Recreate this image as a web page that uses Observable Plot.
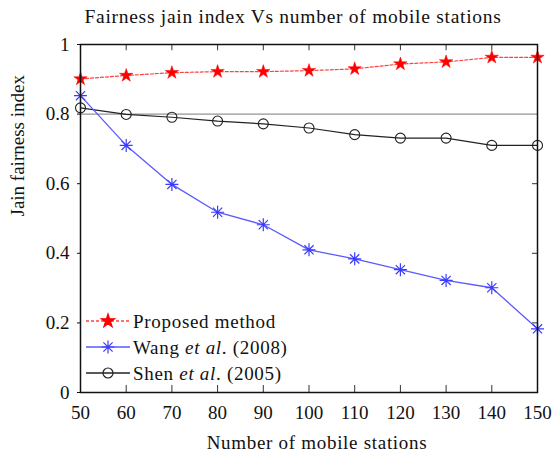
<!DOCTYPE html>
<html>
<head>
<meta charset="utf-8">
<script src="https://cdn.jsdelivr.net/npm/d3@7"></script>
<script src="https://cdn.jsdelivr.net/npm/@observablehq/plot@0.6"></script>
<style>
  body { margin: 0; background: white; }
  #wrap { position: relative; width: 555px; height: 459px; font-family: "Liberation Serif", "DejaVu Serif", serif; }
  #title { box-sizing: border-box; width: 555px; height: 28px; line-height: 33px; padding-left: 31px; text-align: center; font-size: 19.5px; letter-spacing: 0.72px; color: #111; white-space: nowrap; }
  #legend { position: absolute; left: 0; top: 0; }
</style>
</head>
<body>
<div id="wrap">
  <div id="title">Fairness jain index Vs number of mobile stations</div>
  <div id="chart"></div>
  <svg id="legend" width="555" height="459"></svg>
</div>
<script>
// ---- data ----
const stations = [50, 60, 70, 80, 90, 100, 110, 120, 130, 140, 150];
const proposed = [0.901, 0.911, 0.919, 0.922, 0.922, 0.925, 0.930, 0.944, 0.950, 0.963, 0.963];
const wang     = [0.853, 0.710, 0.598, 0.518, 0.482, 0.410, 0.384, 0.353, 0.322, 0.301, 0.183];
const shen     = [0.818, 0.799, 0.791, 0.780, 0.772, 0.760, 0.741, 0.731, 0.731, 0.710, 0.710];
const seriesNames = ["Proposed method", "Wang et al. (2008)", "Shen et al. (2005)"];
const xTicks = [50, 60, 70, 80, 90, 100, 110, 120, 130, 140, 150];
const xInnerTicks = [60, 70, 80, 90, 100, 110, 120, 130, 140];
const yTicks = [0, 0.2, 0.4, 0.6, 0.8, 1];
const yTickLabels = ["0", "0.2", "0.4", "0.6", "0.8", "1"];
const yInnerTicks = [0.2, 0.4, 0.6];
const refLine = [0.8];
const title = "Fairness jain index Vs number of mobile stations";
const xLabel = "Number of mobile stations";
const yLabel = "Jain fairness index";

const colors = ["#ff0000", "#3b3bff", "#222222"];

const rows = (vals) => stations.map((s, i) => ({x: s, y: vals[i]}));
const pRows = rows(proposed), wRows = rows(wang), sRows = rows(shen);

// 8-arm asterisk like gnuplot
const asterisk8 = {
  draw(ctx, size) {
    const r = Math.sqrt(size / Math.PI);
    const d = r * Math.SQRT1_2;
    ctx.moveTo(0, -r); ctx.lineTo(0, r);
    ctx.moveTo(-r, 0); ctx.lineTo(r, 0);
    ctx.moveTo(-d, -d); ctx.lineTo(d, d);
    ctx.moveTo(-d, d); ctx.lineTo(d, -d);
  }
};

const chart = Plot.plot({
  width: 555,
  height: 431,
  marginTop: 16,
  marginBottom: 67,
  marginLeft: 80,
  marginRight: 18,
  style: {fontFamily: "Liberation Serif, DejaVu Serif, serif", fontSize: "19px", color: "#111", background: "white", overflow: "visible"},
  x: {domain: [50, 150]},
  y: {domain: [0, 1]},
  marks: [
    Plot.ruleY(refLine, {stroke: "#7a7a7a", strokeWidth: 1}),
    Plot.ruleX(xInnerTicks, {y1: 0, y2: 0.02, stroke: "#333", strokeWidth: 1}),
    Plot.ruleX(xInnerTicks, {y1: 0.982, y2: 1, stroke: "#333", strokeWidth: 1}),
    Plot.ruleY(yInnerTicks, {x1: 148.9, x2: 150, stroke: "#333", strokeWidth: 1}),
    Plot.axisX({ticks: xTicks, tickSize: 0, tickPadding: 13, tickFormat: d => String(d), label: null}),
    Plot.axisY({ticks: yTicks, tickSize: 3, tickPadding: 8, tickFormat: d => yTickLabels[yTicks.indexOf(d)], label: null}),
    Plot.text([xLabel], {frameAnchor: "bottom", dx: 8, dy: 56, fontSize: 19, className: "xlab"}),
    Plot.text([yLabel], {frameAnchor: "left", rotate: -90, dx: -63, dy: -2, fontSize: 19}),
    // Shen
    Plot.line(sRows, {x: "x", y: "y", stroke: colors[2], strokeWidth: 1.2}),
    Plot.dot(sRows, {x: "x", y: "y", symbol: "circle", r: 5, stroke: colors[2], fill: "none", strokeWidth: 1.1}),
    // Wang
    Plot.line(wRows, {x: "x", y: "y", stroke: "#5a5aff", strokeWidth: 1.3}),
    Plot.dot(wRows, {x: "x", y: "y", symbol: asterisk8, r: 6.5, stroke: colors[1], strokeWidth: 1.2}),
    // Proposed
    Plot.line(pRows, {x: "x", y: "y", stroke: "#ff4040", strokeWidth: 1.2, strokeDasharray: "3,2"}),
    Plot.dot(pRows, {x: "x", y: "y", symbol: "star", r: 4.2, fill: colors[0], stroke: colors[0], strokeWidth: 0.5}),
    Plot.frame({stroke: "#111", strokeWidth: 1.5})
  ]
});
document.getElementById("chart").appendChild(chart);
// widen the x-axis title letter spacing to match the reference
d3.select(chart).selectAll("text").filter(function() { return this.textContent === xLabel; })
  .attr("letter-spacing", "0.7px");

// ---- legend (inside plot, bottom-left) ----
const leg = d3.select("#legend");
const items = [
  {name: seriesNames[0], color: "#ff4040", mcolor: colors[0], dash: "3,2", sym: d3.symbolStar, size: 4.2 * 4.2 * Math.PI, fill: colors[0], parts: [["Proposed method", false]]},
  {name: seriesNames[1], color: "#5a5aff", mcolor: colors[1], dash: null, sym: asterisk8, size: 6.5 * 6.5 * Math.PI, fill: "none", parts: [["Wang ", false], ["et al", true], [". (2008)", false]]},
  {name: seriesNames[2], color: colors[2], mcolor: colors[2], dash: null, sym: d3.symbolCircle, size: 25 * Math.PI, fill: "none", parts: [["Shen ", false], ["et al", true], [". (2005)", false]]}
];
items.forEach((it, i) => {
  const cy = 321 + i * 26;
  const g = leg.append("g");
  g.append("line").attr("x1", 86).attr("x2", 130).attr("y1", cy).attr("y2", cy)
    .attr("stroke", it.color).attr("stroke-width", 1.3).attr("stroke-dasharray", it.dash);
  g.append("path").attr("transform", `translate(108,${cy})`)
    .attr("d", d3.symbol(it.sym, it.size)())
    .attr("fill", it.fill).attr("stroke", it.mcolor).attr("stroke-width", 1.2);
  const t = g.append("text").attr("x", 133).attr("y", cy).attr("dy", "0.35em")
    .attr("font-family", "Liberation Serif, DejaVu Serif, serif").attr("font-size", 19)
    .attr("letter-spacing", "0.7px").attr("fill", "#111");
  it.parts.forEach(([s, ital]) => t.append("tspan").attr("font-style", ital ? "italic" : null).text(s));
});
</script>
</body>
</html>
